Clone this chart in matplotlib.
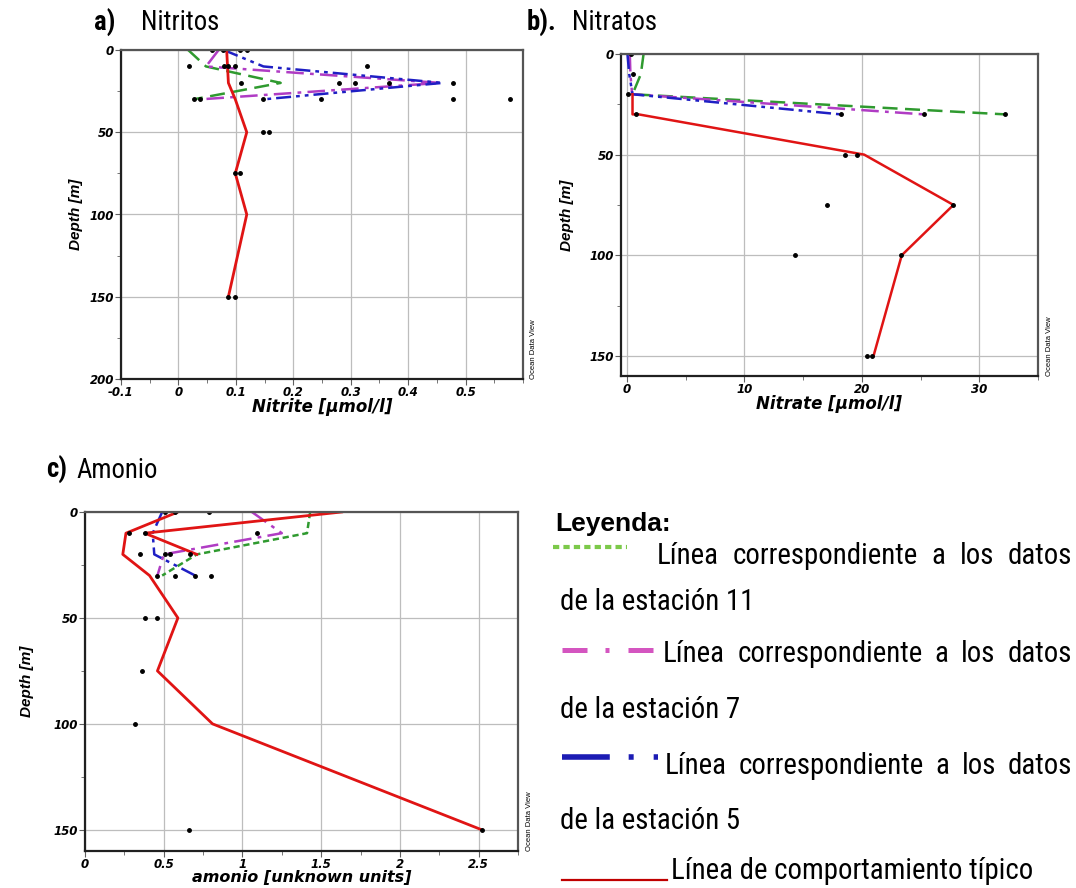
import matplotlib
matplotlib.use("Agg")
import matplotlib.pyplot as plt
from matplotlib import font_manager as fm
from matplotlib.lines import Line2D
from matplotlib.ticker import MultipleLocator

# depths of the station samples
depth_st = [0, 10, 20, 30]

# a) nitrite
no2_st11 = [0.017, 0.048, 0.178, 0.026]
no2_st7 = [0.070, 0.048, 0.456, 0.038]
no2_st5 = [0.079, 0.148, 0.460, 0.148]
no2_typ_depth = [0, 20, 30, 50, 75, 100, 150]
no2_typ = [0.084, 0.087, 0.099, 0.119, 0.099, 0.119, 0.087]
no2_pts_val = [0.058, 0.078, 0.108, 0.119, 0.019, 0.079, 0.087, 0.099, 0.328,
               0.109, 0.279, 0.308, 0.367, 0.478, 0.027, 0.038, 0.148, 0.248,
               0.478, 0.578, 0.148, 0.158, 0.099, 0.108, 0.087, 0.099]
no2_pts_depth = [0, 0, 0, 0, 10, 10, 10, 10, 10,
                 20, 20, 20, 20, 20, 30, 30, 30, 30,
                 30, 30, 50, 50, 75, 75, 150, 150]

# b) nitrate
no3_st11 = [1.42, 1.19, 0.48, 32.2]
no3_st7 = [0.25, 0.30, 0.45, 25.3]
no3_st5 = [0.05, 0.20, 0.48, 18.2]
no3_typ_depth = [20, 30, 30, 50, 75, 100, 150]
no3_typ = [0.48, 0.48, 1.0, 20.2, 27.8, 23.4, 21.0]
no3_pts_val = [0.34, 0.48, 0.06, 0.77, 18.2, 25.3, 32.2, 18.6, 19.6, 17.0, 27.8,
               14.3, 23.35, 20.4, 20.9]
no3_pts_depth = [0, 10, 20, 30, 30, 30, 30, 50, 50, 75, 75, 100, 100, 150, 150]

# c) amonio
nh4_st11 = [1.43, 1.41, 0.71, 0.49]
nh4_st7 = [1.06, 1.25, 0.50, 0.46]
nh4_st5 = [0.49, 0.43, 0.44, 0.70]
nh4_typ_depth = [0, 10, 20, 30, 50, 75, 100, 150]
nh4_typ = [0.59, 0.26, 0.24, 0.41, 0.59, 0.46, 0.81, 2.52]
nh4_typ2_depth = [0, 10, 20]
nh4_typ2 = [1.63, 0.38, 0.71]
nh4_pts_val = [0.51, 0.57, 0.79, 0.28, 0.38, 1.09, 0.35, 0.51, 0.54, 0.67,
               0.46, 0.57, 0.70, 0.80, 0.38, 0.46, 0.36, 0.32, 0.66, 2.52]
nh4_pts_depth = [0, 0, 0, 10, 10, 10, 20, 20, 20, 20,
                 30, 30, 30, 30, 50, 50, 75, 100, 150, 150]

W, H = 1076, 888
GREEN = '#2f9a2f'
MAGENTA = '#b03cc4'
BLUE = '#1f1fc4'
RED = '#e01414'

# pick a narrow font if one is installed
fonts = fm.fontManager.ttflist
names = {f.name for f in fonts}
NARROW, STRETCH = ['Liberation Sans', 'DejaVu Sans'], 'normal'
for cand in ['Liberation Sans Narrow', 'Arial Narrow', 'Roboto Condensed',
             'Open Sans Condensed']:
    if cand in names:
        NARROW = [cand, 'DejaVu Sans']
        break
else:
    if any(f.name == 'DejaVu Sans' and f.stretch == 'condensed' for f in fonts):
        NARROW, STRETCH = ['DejaVu Sans'], 'condensed'
TICKF = ['DejaVu Sans']
LABF = ['Liberation Sans', 'DejaVu Sans']

fig = plt.figure(figsize=(W / 100, H / 100), dpi=100)
renderer = fig.canvas.get_renderer()


def box(l, t, r, b):
    return [l / W, 1 - b / H, (r - l) / W, (b - t) / H]


def px(x, y):
    return x / W, 1 - y / H


def width_of(s, size, **kw):
    t = fig.text(0, 0, s, fontsize=size, **kw)
    w = t.get_window_extent(renderer).width
    t.remove()
    return w


def fit_size(s, target, **kw):
    return 20 * target / width_of(s, 20, **kw)


def style_axes(ax, xlabel, xlim, ylim, xmin, yticks, xticks, xticklabels,
               xlabsize=12, ylabpad=4):
    ax.set_xlim(*xlim)
    ax.set_ylim(*ylim)
    ax.xaxis.set_minor_locator(MultipleLocator(xmin))
    ax.set_xticks(xticks)
    ax.set_xticklabels(xticklabels)
    ax.set_yticks(yticks)
    ax.yaxis.set_minor_locator(MultipleLocator(25))
    ax.grid(True, which='major', color='#bdbdbd', lw=0.9)
    ax.set_axisbelow(True)
    for s in ax.spines.values():
        s.set_color('#555555')
        s.set_linewidth(1.6)
    ax.spines['left'].set_color('#202020')
    ax.spines['bottom'].set_color('#202020')
    ax.tick_params(which='both', direction='out', color='#606060')
    ax.tick_params(which='major', length=4, pad=1)
    ax.tick_params(which='minor', length=3)
    for lab in ax.get_xticklabels() + ax.get_yticklabels():
        lab.set_fontsize(8.5)
        lab.set_fontweight('bold')
        lab.set_fontstyle('italic')
        lab.set_family(TICKF)
    ax.set_xlabel(xlabel, fontsize=xlabsize, fontweight='bold', fontstyle='italic',
                  family=TICKF, labelpad=-0.5)
    ax.set_ylabel('Depth [m]', fontsize=11, fontweight='bold', fontstyle='italic',
                  family=LABF, labelpad=ylabpad)
    ax.text(1.018, 0.0, 'Ocean Data View', transform=ax.transAxes, rotation=90,
            fontsize=5.5, family=LABF, ha='left', va='bottom')


def draw_profiles(ax, st11, st7, st5, ls11):
    ax.plot(st11, depth_st, color=GREEN, lw=1.8, ls=ls11)
    ax.plot(st7, depth_st, color=MAGENTA, lw=1.8, ls=(0, (7, 2.5, 1.5, 2.5)))
    ax.plot(st5, depth_st, color=BLUE, lw=1.8, ls=(0, (6, 2, 1.5, 2, 1.5, 2)))


# a) Nitritos
ax1 = fig.add_axes(box(121, 50, 523, 379))
draw_profiles(ax1, no2_st11, no2_st7, no2_st5, (0, (6, 3)))
ax1.plot(no2_typ, no2_typ_depth, color=RED, lw=2)
ax1.plot(no2_pts_val, no2_pts_depth, 'o', color='black', ms=2.5, ls='none')
style_axes(ax1, 'Nitrite [µmol/l]', (-0.1, 0.6), (200, 0), 0.05,
           [0, 50, 100, 150, 200], [-0.1, 0, 0.1, 0.2, 0.3, 0.4, 0.5],
           ['-0.1', '0', '0.1', '0.2', '0.3', '0.4', '0.5'], ylabpad=5)

# b) Nitratos
ax2 = fig.add_axes(box(621, 54, 1038, 376))
draw_profiles(ax2, no3_st11, no3_st7, no3_st5, (0, (6, 3)))
ax2.plot(no3_typ, no3_typ_depth, color=RED, lw=1.8)
ax2.plot(no3_pts_val, no3_pts_depth, 'o', color='black', ms=2.5, ls='none')
style_axes(ax2, 'Nitrate [µmol/l]', (-0.5, 35), (160, 0), 5, [0, 50, 100, 150],
           [0, 10, 20, 30], ['0', '10', '20', '30'], ylabpad=11)

# c) Amonio
ax3 = fig.add_axes(box(85, 512, 518, 851))
draw_profiles(ax3, nh4_st11, nh4_st7, nh4_st5, (0, (2.5, 1.5)))
ax3.plot(nh4_typ, nh4_typ_depth, color=RED, lw=2)
ax3.plot(nh4_typ2, nh4_typ2_depth, color=RED, lw=2)
ax3.plot(nh4_pts_val, nh4_pts_depth, 'o', color='black', ms=2.5, ls='none')
style_axes(ax3, 'amonio [unknown units]', (0, 2.75), (160, 0), 0.25,
           [0, 50, 100, 150], [0, 0.5, 1, 1.5, 2, 2.5],
           ['0', '0.5', '1', '1.5', '2', '2.5'], xlabsize=11.5, ylabpad=14)

# panel titles
nkw = dict(family=NARROW, fontstretch=STRETCH)
tsize = fit_size('Nitritos', 78, **nkw)
for (x1, x2, y, lab, name) in [(94, 141, 23, 'a)', 'Nitritos'),
                               (527, 572, 23, 'b).', 'Nitratos'),
                               (46, 76, 470, 'c)', 'Amonio')]:
    fig.text(*px(x1, y), lab, fontsize=tsize, fontweight='bold', va='center',
             ha='left', **nkw)
    fig.text(*px(x2, y), name, fontsize=tsize, va='center', ha='left', **nkw)

# legend block
fig.text(*px(555, 524), 'Leyenda:', fontsize=19, fontweight='bold', family=LABF,
         va='center', ha='left')
lsize = fit_size('de la estación 11', 194, **nkw)


def justified(x0, x1, y, s):
    words = s.split()
    ws = [width_of(w, lsize, **nkw) for w in words]
    gap = (x1 - x0 - sum(ws)) / (len(words) - 1)
    x = x0
    for w, wd in zip(words, ws):
        fig.text(*px(x, y), w, fontsize=lsize, va='center', ha='left', **nkw)
        x += wd + gap


line1 = 'Línea correspondiente a los datos'
fig.add_artist(Line2D([553 / W, 627 / W], [1 - 547 / H] * 2, color='#7cc94a', lw=3,
                      ls=(0, (1.5, 1))))
justified(657, 1072, 556, line1)
fig.text(*px(560, 602), 'de la estación 11', fontsize=lsize, va='center',
         ha='left', **nkw)
fig.add_artist(Line2D([562 / W, 653 / W], [1 - 650 / H] * 2, color='#d455c0', lw=3.6,
                      ls=(0, (5, 3.6, 0.8, 3.8))))
justified(663, 1072, 654, line1)
fig.text(*px(560, 710), 'de la estación 7', fontsize=lsize, va='center', ha='left',
         **nkw)
fig.add_artist(Line2D([562 / W, 658 / W], [1 - 757 / H] * 2, color='#1c1cb4', lw=4,
                      ls=(0, (8.6, 3.4, 0.9, 3.6, 0.9, 5))))
justified(665, 1072, 766, line1)
fig.text(*px(560, 821), 'de la estación 5', fontsize=lsize, va='center', ha='left',
         **nkw)
fig.add_artist(Line2D([562 / W, 667 / W], [1 - 880 / H] * 2, color='#c00000', lw=1.6))
fig.text(*px(671, 871), 'Línea de comportamiento típico', fontsize=lsize,
         va='center', ha='left', **nkw)

fig.savefig('out.png', dpi=100)
